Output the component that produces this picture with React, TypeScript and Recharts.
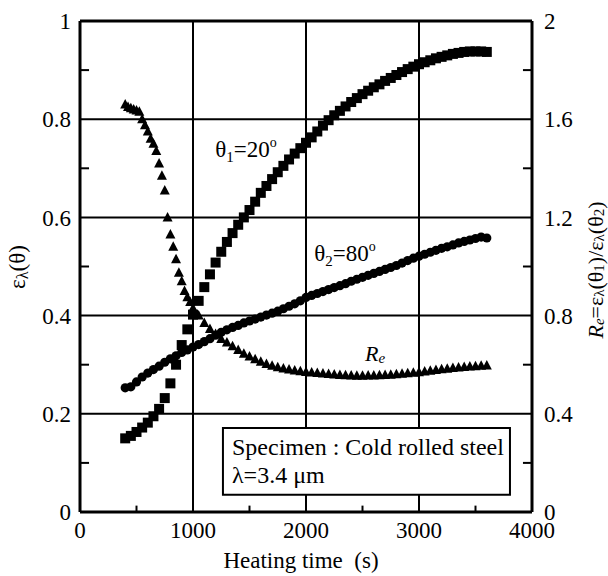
import React from "react"
import { ScatterChart, Scatter, XAxis, YAxis, CartesianGrid, ReferenceLine, ReferenceArea, ReferenceDot } from "recharts"

const FONT = "Liberation Serif, Tinos, Times New Roman, DejaVu Serif, serif"

// heating time (s) for the two emissivity curves
const timeMain = [
  400, 450, 500, 550, 600, 650, 700, 750, 800, 850, 900, 950, 1000, 1050, 1100, 1150,
  1200, 1250, 1300, 1350, 1400, 1450, 1500, 1550, 1600, 1650, 1700, 1750, 1800, 1850,
  1900, 1950, 2000, 2050, 2100, 2150, 2200, 2250, 2300, 2350, 2400, 2450, 2500, 2550,
  2600, 2650, 2700, 2750, 2800, 2850, 2900, 2950, 3000, 3050, 3100, 3150, 3200, 3250,
  3300, 3350, 3400, 3450, 3500, 3550, 3600,
]
// θ1 = 20°
const theta20 = [
  0.150, 0.155, 0.163, 0.172, 0.182, 0.195, 0.210, 0.232, 0.262, 0.300, 0.340, 0.372, 0.402, 0.430, 0.458, 0.484,
  0.508, 0.530, 0.550, 0.568, 0.585, 0.600, 0.615, 0.632, 0.650, 0.664, 0.678, 0.692, 0.705, 0.718,
  0.730, 0.741, 0.752, 0.763, 0.775, 0.787, 0.798, 0.808, 0.817, 0.826, 0.835, 0.843, 0.851, 0.858,
  0.865, 0.871, 0.878, 0.884, 0.890, 0.896, 0.902, 0.907, 0.912, 0.916, 0.920, 0.924, 0.927, 0.930,
  0.933, 0.935, 0.937, 0.938, 0.938, 0.938, 0.937,
]
// θ2 = 80°
const theta80 = [
  0.253, 0.255, 0.265, 0.275, 0.283, 0.290, 0.297, 0.305, 0.312, 0.318, 0.325, 0.330, 0.336, 0.341, 0.347, 0.353,
  0.360, 0.366, 0.371, 0.376, 0.380, 0.385, 0.389, 0.393, 0.397, 0.401, 0.405, 0.409, 0.414, 0.419,
  0.424, 0.430, 0.437, 0.441, 0.445, 0.449, 0.453, 0.457, 0.461, 0.465, 0.470, 0.474, 0.478, 0.482,
  0.486, 0.490, 0.494, 0.498, 0.502, 0.507, 0.512, 0.517, 0.521, 0.525, 0.529, 0.533, 0.537, 0.540,
  0.544, 0.548, 0.551, 0.554, 0.557, 0.560, 0.558,
]
// Re = ε(θ1)/ε(θ2), right axis
const timeRatio = [
  400, 425, 450, 475, 500, 525, 550, 575, 600, 625, 650, 675, 700, 725, 750, 775, 800, 825,
  850, 875, 900, 925, 950, 975, 1000, 1050, 1100, 1150, 1200, 1250, 1300, 1350, 1400, 1450,
  1500, 1550, 1600, 1650, 1700, 1750, 1800, 1850, 1900, 1950, 2000, 2050, 2100, 2150, 2200,
  2250, 2300, 2350, 2400, 2450, 2500, 2550, 2600, 2650, 2700, 2750, 2800, 2850, 2900, 2950,
  3000, 3050, 3100, 3150, 3200, 3250, 3300, 3350, 3400, 3450, 3500, 3550, 3600,
]
const ratio = [
  1.66, 1.65, 1.645, 1.64, 1.635, 1.63, 1.60, 1.575, 1.55, 1.52, 1.50, 1.47, 1.42, 1.37, 1.31, 1.20, 1.13, 1.08,
  1.03, 0.975, 0.94, 0.90, 0.875, 0.855, 0.83, 0.80, 0.77, 0.745, 0.725, 0.705, 0.69, 0.675, 0.66, 0.645,
  0.633, 0.622, 0.612, 0.603, 0.596, 0.59, 0.585, 0.58, 0.576, 0.573, 0.57, 0.568, 0.566, 0.564, 0.562,
  0.56, 0.558, 0.557, 0.556, 0.555, 0.555, 0.556, 0.556, 0.557, 0.558, 0.559, 0.561, 0.563, 0.565, 0.567,
  0.569, 0.572, 0.575, 0.578, 0.581, 0.584, 0.587, 0.589, 0.591, 0.593, 0.594, 0.596, 0.597,
]

const xTicks = [0, 1000, 2000, 3000, 4000]
const leftTicks = [0, 0.2, 0.4, 0.6, 0.8, 1]
const rightTicks = [0, 0.4, 0.8, 1.2, 1.6, 2]
const xMinor = [500, 1500, 2500, 3500]
const yMinor = [0.1, 0.3, 0.5, 0.7, 0.9]

const d20 = timeMain.map((x, i) => ({ x, y: theta20[i] }))
const d80 = timeMain.map((x, i) => ({ x, y: theta80[i] }))
const dRe = timeRatio.map((x, i) => ({ x, y: ratio[i] }))

const Square = (p: any) => <rect x={p.cx - 5} y={p.cy - 5} width={10} height={10} fill="#000" />
const Dot = (p: any) => <circle cx={p.cx} cy={p.cy} r={4.6} fill="#000" />
const Tri = (p: any) => (
  <path d={`M${p.cx},${p.cy - 5.5}L${p.cx + 5},${p.cy + 4}L${p.cx - 5},${p.cy + 4}Z`} fill="#000" />
)

const tickStyle = { fill: "#000", fontSize: 23, fontFamily: FONT, style: { fontFamily: FONT } }

const LeftTitle = (props: any) => {
  const vb = props.viewBox ?? { x: 0, y: 21, width: 80, height: 491 }
  const cx = vb.x + 17
  const cy = vb.y + 246
  return (
    <text x={cx} y={cy} transform={`rotate(-90 ${cx} ${cy})`} textAnchor="middle" dominantBaseline="central"
      fontSize={23} style={{ fontFamily: FONT }} fill="#000">
      ε<tspan fontSize={16} dy={5}>λ</tspan><tspan dy={-5}>(θ)</tspan>
    </text>
  )
}

const RightTitle = (props: any) => {
  const vb = props.viewBox ?? { x: 532, y: 21, width: 76, height: 491 }
  const cx = vb.x + 63
  const cy = vb.y + 249
  return (
    <text x={cx} y={cy} transform={`rotate(-90 ${cx} ${cy})`} textAnchor="middle" dominantBaseline="central"
      fontSize={22} style={{ fontFamily: FONT }} fill="#000">
      <tspan fontStyle="italic">R</tspan><tspan fontStyle="italic" fontSize={15} dy={4}>e</tspan>
      <tspan dy={-4}>=ε</tspan><tspan fontSize={15} dy={4}>λ</tspan><tspan dy={-4}>(θ</tspan>
      <tspan fontSize={15} dy={4}>1</tspan><tspan dy={-4}>)/ε</tspan><tspan fontSize={15} dy={4}>λ</tspan>
      <tspan dy={-4}>(θ</tspan><tspan fontSize={15} dy={4}>2</tspan><tspan dy={-4}>)</tspan>
    </text>
  )
}

const BottomTitle = (props: any) => {
  const vb = props.viewBox ?? { x: 80, y: 512, width: 452, height: 64 }
  return (
    <text x={vb.x + 221} y={vb.y + 56} textAnchor="middle" fontSize={23} fill="#000"
      style={{ whiteSpace: "pre", fontFamily: FONT }}>
      {"Heating time  (s)"}
    </text>
  )
}

const thetaLabel = (sub: string, deg: string) => (p: any) => (
  <text x={p.cx} y={p.cy} textAnchor="middle" fontSize={23} style={{ fontFamily: FONT }} fill="#000">
    θ<tspan fontSize={15} dy={5}>{sub}</tspan><tspan dy={-5}>={deg}</tspan>
    <tspan fontSize={14} dy={-10}>o</tspan>
  </text>
)

const ReLabel = (p: any) => (
  <text x={p.cx} y={p.cy} textAnchor="middle" fontSize={22} style={{ fontFamily: FONT }} fontStyle="italic" fill="#000">
    R<tspan fontSize={15} dy={2}>e</tspan>
  </text>
)

const boxLine = (txt: string) => (p: any) => (
  <text x={p.cx} y={p.cy} fontSize={24} style={{ fontFamily: FONT }} fill="#000">{txt}</text>
)

export default function App() {
  return (
    <div style={{ position: "absolute", left: 0, top: 0, background: "#fff", fontFamily: FONT }}>
      <ScatterChart width={608} height={576} margin={{ top: 21, right: 0, bottom: 0, left: 0 }}>
        <CartesianGrid yAxisId="left" stroke="#000" strokeWidth={2} strokeOpacity={1} />
        <XAxis type="number" dataKey="x" domain={[0, 4000]} ticks={xTicks} height={64}
          axisLine={{ stroke: "#000", strokeWidth: 3 }} tickLine={false} tickSize={0} tickMargin={10}
          tick={tickStyle} label={<BottomTitle />} allowDataOverflow />
        <YAxis yAxisId="left" type="number" dataKey="y" domain={[0, 1]} ticks={leftTicks} width={80}
          axisLine={{ stroke: "#000", strokeWidth: 3 }} tickLine={false} tickSize={0} tickMargin={9}
          tick={tickStyle} label={<LeftTitle />} allowDataOverflow />
        <YAxis yAxisId="right" orientation="right" type="number" dataKey="y" domain={[0, 2]} ticks={rightTicks} width={76}
          axisLine={{ stroke: "#000", strokeWidth: 3 }} tickLine={false} tickSize={0} tickMargin={12}
          tick={tickStyle} label={<RightTitle />} allowDataOverflow />
        <ReferenceLine yAxisId="left" y={1} stroke="#000" strokeWidth={3} />
        {xMinor.map((v) => (
          <ReferenceLine key={"xm" + v} yAxisId="left" segment={[{ x: v, y: 0 }, { x: v, y: 0.013 }]}
            stroke="#000" strokeWidth={2} />
        ))}
        {yMinor.map((v) => (
          <ReferenceLine key={"yl" + v} yAxisId="left" segment={[{ x: 0, y: v }, { x: 80, y: v }]}
            stroke="#000" strokeWidth={2} />
        ))}
        {yMinor.map((v) => (
          <ReferenceLine key={"yr" + v} yAxisId="left" segment={[{ x: 3920, y: v }, { x: 4000, y: v }]}
            stroke="#000" strokeWidth={2} />
        ))}
        <Scatter yAxisId="left" data={d20} shape={Square} isAnimationActive={false} />
        <Scatter yAxisId="left" data={d80} shape={Dot} isAnimationActive={false} />
        <Scatter yAxisId="right" data={dRe} shape={Tri} isAnimationActive={false} />
        <ReferenceArea yAxisId="left" x1={1265} x2={3805} y1={0.035} y2={0.171}
          fill="#fff" fillOpacity={1} stroke="#000" strokeWidth={2} />
        <ReferenceDot yAxisId="left" x={1345} y={0.116} r={0} shape={boxLine("Specimen : Cold rolled steel")} />
        <ReferenceDot yAxisId="left" x={1345} y={0.059} r={0} shape={boxLine("λ=3.4 μm")} />
        <ReferenceDot yAxisId="left" x={1469} y={0.723} r={0} shape={thetaLabel("1", "20")} />
        <ReferenceDot yAxisId="left" x={2345} y={0.511} r={0} shape={thetaLabel("2", "80")} />
        <ReferenceDot yAxisId="left" x={2611} y={0.3075} r={0} shape={ReLabel} />
      </ScatterChart>
    </div>
  )
}
